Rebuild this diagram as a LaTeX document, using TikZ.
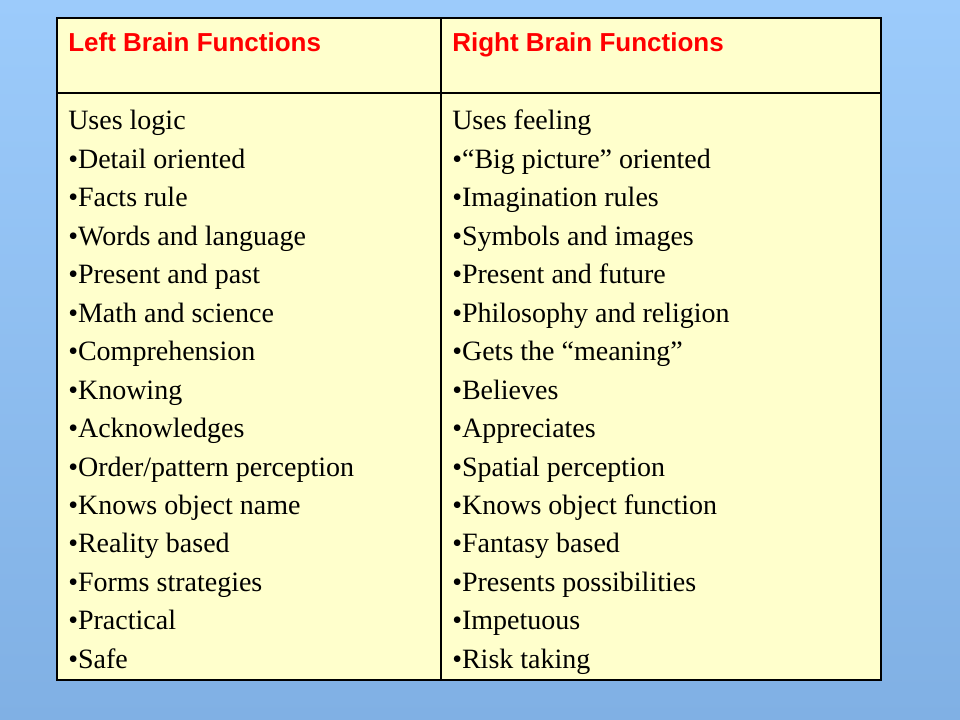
\documentclass[tikz,border=0pt]{standalone}
\usepackage{fontspec}
\setmainfont{Liberation Serif}
\setsansfont{Liberation Sans}
\definecolor{bgtop}{HTML}{9CCBFB}
\definecolor{bgbot}{HTML}{80B0E4}
\definecolor{cellfill}{HTML}{FFFFCC}
\definecolor{headred}{HTML}{FF0000}
\tikzset{
  head/.style={anchor=base west, inner sep=0pt, font=\sffamily\bfseries\fontsize{19.5}{22}\selectfont, text=headred},
  item/.style={anchor=base west, inner sep=0pt, font=\fontsize{21}{25}\selectfont}
}
\begin{document}
\begin{tikzpicture}[x=0.75pt,y=-0.75pt]
\shade[top color=bgtop, bottom color=bgbot] (0,0) rectangle (960,720);
\useasboundingbox (0,0) rectangle (960,720);
% table
\fill[cellfill] (57,18) rectangle (881,680);
\draw[line width=0.8pt] (57,18) rectangle (881,680);
\draw[line width=0.8pt] (57,93) -- (881,93);
\draw[line width=0.8pt] (441,18) -- (441,680);
\node[head] (lhead) at (68,52) {Left Brain Functions};
\node[head] (rhead) at (452,52) {Right Brain Functions};
% left column
\foreach \txt [count=\i from 0] in {Uses logic, •Detail oriented, •Facts rule,
  •Words and language, •Present and past, •Math and science, •Comprehension,
  •Knowing, •Acknowledges, •Order/pattern perception, •Knows object name,
  •Reality based, •Forms strategies, •Practical, •Safe}
  \node[item] (l\i) at (68,130+38.45*\i) {\txt};
% right column
\foreach \txt [count=\i from 0] in {Uses feeling, •“Big picture” oriented,
  •Imagination rules, •Symbols and images, •Present and future,
  •Philosophy and religion, •Gets the “meaning”, •Believes, •Appreciates,
  •Spatial perception, •Knows object function, •Fantasy based,
  •Presents possibilities, •Impetuous, •Risk taking}
  \node[item] (r\i) at (452,130+38.45*\i) {\txt};
\end{tikzpicture}
\end{document}
